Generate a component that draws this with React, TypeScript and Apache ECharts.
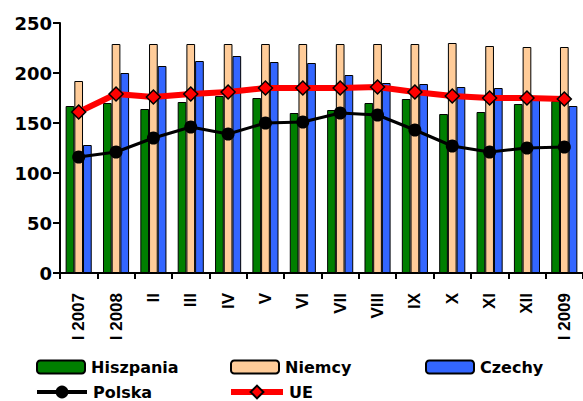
import React, { useEffect, useRef } from "react";
import * as echarts from "echarts";

const categories = ["I 2007", "I 2008", "II", "III", "IV", "V", "VI", "VII", "VIII", "IX", "X", "XI", "XII", "I 2009"];
const hiszpania = [167, 170, 164, 171, 177, 175, 160, 163, 170, 174, 159, 161, 169, 172];
const niemcy = [192, 229, 229, 229, 229, 229, 229, 229, 229, 229, 230, 227, 226, 226];
const czechy = [128, 200, 207, 212, 217, 211, 210, 198, 190, 189, 186, 185, 177, 167];
const polska = [116, 121, 135, 146, 139, 150, 151, 160, 158, 143, 127, 121, 125, 126];
const ue = [161, 179, 176, 179, 181, 185, 185, 185, 186, 181, 177, 175, 175, 174];
const yTicks = { min: 0, max: 250, interval: 50 };

const legendFont = { fontFamily: "DejaVu Sans", fontWeight: "bold" as const, fontSize: 16, color: "#000" };

export default function App() {
  const ref = useRef<HTMLDivElement>(null);
  useEffect(() => {
    if (!ref.current) return;
    const chart = echarts.init(ref.current, null, { renderer: "svg" });
    const barStyle = (color: string) => ({ color, borderColor: "#000", borderWidth: 1 });
    const mkLegend = (name: string, left: number, top: number, w: number, h: number, lw?: number) => ({
      data: [name],
      left,
      top,
      itemWidth: w,
      itemHeight: h,
      itemGap: 0,
      padding: 0,
      selectedMode: false,
      ...(lw ? { lineStyle: { width: lw } } : {}),
      textStyle: { ...legendFont, padding: [0, 0, 0, 1] },
    });
    chart.setOption({
      animation: false,
      backgroundColor: "#fff",
      grid: { left: 60, top: 23, width: 530, height: 250, containLabel: false },
      legend: [
        mkLegend("Hiszpania", 36, 359, 48, 13),
        mkLegend("Niemcy", 230, 359, 48, 13),
        mkLegend("Czechy", 425, 359, 48, 13),
        mkLegend("Polska", 35, 384, 50, 16, 4),
        mkLegend("UE", 228, 384, 52, 16, 6),
      ],
      xAxis: {
        type: "category",
        data: categories,
        boundaryGap: true,
        axisLine: { lineStyle: { color: "#000", width: 2 } },
        axisTick: { show: true, length: 6, lineStyle: { color: "#000", width: 2 } },
        axisLabel: {
          rotate: 90,
          margin: 20,
          interval: 0,
          fontFamily: "Liberation Sans",
          fontWeight: "bold",
          fontSize: 17,
          color: "#000",
        },
      },
      yAxis: {
        type: "value",
        min: yTicks.min,
        max: yTicks.max,
        interval: yTicks.interval,
        splitLine: { show: false },
        axisLine: { show: true, lineStyle: { color: "#000", width: 2 } },
        axisTick: { show: true, length: 7, lineStyle: { color: "#000", width: 2 } },
        axisLabel: {
          margin: 8,
          fontFamily: "DejaVu Sans",
          fontWeight: "bold",
          fontSize: 18,
          color: "#000",
        },
      },
      series: [
        { name: "Hiszpania", type: "bar", data: hiszpania, barWidth: 8.7, barGap: "0%", itemStyle: barStyle("#007F00") },
        { name: "Niemcy", type: "bar", data: niemcy, barWidth: 8.7, barGap: "0%", itemStyle: barStyle("#FFCC99") },
        { name: "Czechy", type: "bar", data: czechy, barWidth: 8.7, barGap: "0%", itemStyle: barStyle("#3366FF") },
        {
          name: "Polska",
          type: "line",
          data: polska,
          symbol: "circle",
          symbolSize: 13,
          z: 5,
          lineStyle: { color: "#000", width: 3 },
          itemStyle: { color: "#000", borderColor: "#000", borderWidth: 0 },
        },
        {
          name: "UE",
          type: "line",
          data: ue,
          symbol: "diamond",
          symbolSize: 14,
          z: 6,
          lineStyle: { color: "#FF0000", width: 6 },
          itemStyle: { color: "#FF0000", borderColor: "#000", borderWidth: 1.5 },
        },
      ],
    });
    return () => chart.dispose();
  }, []);
  return (
    <div
      ref={ref}
      style={{ position: "absolute", left: 0, top: 0, width: 583, height: 401, overflow: "hidden" }}
    />
  );
}
